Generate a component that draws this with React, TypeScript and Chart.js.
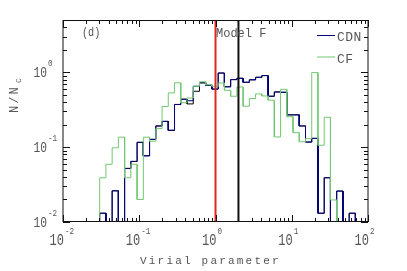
import { useEffect, useRef } from "react";
import { Chart, registerables } from "chart.js";

Chart.register(...registerables);

// ---- axis ranges ----
const X_MIN = 0.01;
const X_MAX = 100;
const Y_MIN = 0.01;
const Y_MAX = 5;
const X_TICK_EXPONENTS = [-2, -1, 0, 1, 2];
const Y_TICK_EXPONENTS = [-2, -1, 0];

// ---- histogram bins (uniform in log10) ----
const BIN_LOG_START = -1.519;
const BIN_LOG_WIDTH = 0.0818;

// ---- series values (N / N_C per bin) ----
const CF = [
  0.039, 0.059, 0.098, 0.136, 0.039, 0.059, 0.02, 0.136, 0.12, 0.177,
  0.349, 0.531, 0.724, 0.392, 0.454, 0.651, 0.747, 0.681, 0.651, 0.72,
  0.575, 0.479, 0.637, 0.352, 0.446, 0.514, 0.483, 0.424, 0.137, 0.593,
  0.255, 0.156, 0.118, 0.13, 0.991, 0.106, 0.251, 0.0197,
];
const CDN = [
  0.0131, 0, 0.0261, 0, 0.052, 0.0645, 0.116, 0.0766, 0.127, 0.192,
  0.221, 0.168, 0.372, 0.437, 0.417, 0.651, 0.724, 0.671, 0.597, 0.978,
  0.641, 0.799, 0.832, 0.736, 0.794, 0.858, 0.904, 0.479, 0.546, 0.541,
  0.27, 0.27, 0.192, 0.117, 0.131, 0.0131, 0.039, 0, 0.0259, 0,
  0.0131,
];
const ALL = [
  0.0131, 0, 0.0261, 0, 0.052, 0.0645, 0.116, 0.0766, 0.127, 0.192,
  0.221, 0.168, 0.372, 0.437, 0.378, 0.558, 0.724, 0.671, 0.597, 0.978,
  0.641, 0.799, 0.832, 0.736, 0.794, 0.858, 0.904, 0.479, 0.546, 0.541,
  0.27, 0.27, 0.192, 0.117, 0.131, 0.0131, 0.039, 0, 0.0259, 0,
  0.0131,
];
const VLINES = [1, 2];

const LABEL_CDN = "CDN";
const LABEL_CF = "CF";
const X_TITLE = "Virial parameter";
const PANEL_TAG = "(d)";
const MODEL_TAG = "Model F";

const COL_CDN = "#000080";
const COL_CF = "#72c872";
const COL_ALL = "#000000";
const COL_TEXT = "#555555";

function edge(k: number) {
  return Math.pow(10, BIN_LOG_START + k * BIN_LOG_WIDTH);
}

// empty bins sit on the lower axis edge (log scale cannot show 0)
function floorY(v: number) {
  return v > 0 ? v : Y_MIN;
}

function histPoints(values: number[]) {
  const pts: { x: number; y: number }[] = [{ x: edge(0), y: Y_MIN }];
  values.forEach((v, i) => {
    pts.push({ x: edge(i), y: floorY(v) });
    pts.push({ x: edge(i + 1), y: floorY(v) });
  });
  pts.push({ x: edge(values.length), y: Y_MIN });
  return pts;
}

function drawText(
  ctx: CanvasRenderingContext2D,
  text: string,
  x: number,
  y: number,
  font: string,
  align: CanvasTextAlign = "left",
  sx = 1,
  ls = 0
) {
  ctx.save();
  ctx.font = font;
  (ctx as any).letterSpacing = ls + "px";
  ctx.translate(x, y);
  ctx.scale(sx, 1);
  ctx.textAlign = align;
  ctx.textBaseline = "alphabetic";
  ctx.fillStyle = COL_TEXT;
  ctx.fillText(text, 0, 0);
  ctx.restore();
}

const MONO = "'Liberation Mono', 'DejaVu Sans Mono', monospace";

const framePlugin = {
  id: "frame",
  afterDraw(chart: any) {
    const { ctx, chartArea: a, scales } = chart;
    const xs = scales.x;
    const ys = scales.y;
    ctx.save();
    ctx.strokeStyle = "#111";
    ctx.lineWidth = 1;
    // frame
    ctx.beginPath();
    ctx.moveTo(a.left, a.top + 0.5);
    ctx.lineTo(a.right, a.top + 0.5);
    ctx.moveTo(a.left, a.bottom - 0.5);
    ctx.lineTo(a.right, a.bottom - 0.5);
    ctx.moveTo(a.left, a.top);
    ctx.lineTo(a.left, a.bottom);
    ctx.moveTo(a.right, a.top);
    ctx.lineTo(a.right, a.bottom);
    ctx.stroke();

    // x ticks
    ctx.beginPath();
    for (let d = -2; d <= 2; d++) {
      for (let m = 1; m <= 9; m++) {
        const v = m * Math.pow(10, d);
        if (v > X_MAX * 1.0001) break;
        const px = Math.round(xs.getPixelForValue(v)) + 0.5;
        const len = m === 1 ? 7 : 4;
        ctx.moveTo(px, a.bottom);
        ctx.lineTo(px, a.bottom - len);
        ctx.moveTo(px, a.top);
        ctx.lineTo(px, a.top + len);
      }
    }
    // y ticks
    for (let d = -2; d <= 0; d++) {
      for (let m = 1; m <= 9; m++) {
        const v = m * Math.pow(10, d);
        if (v > Y_MAX) break;
        const py = Math.round(ys.getPixelForValue(v)) + 0.5;
        const len = m === 1 ? 7 : 4;
        ctx.moveTo(a.left, py);
        ctx.lineTo(a.left + len, py);
        ctx.moveTo(a.right, py);
        ctx.lineTo(a.right - len, py);
      }
    }
    ctx.stroke();

    // x tick labels
    X_TICK_EXPONENTS.forEach((e) => {
      const px = xs.getPixelForValue(Math.pow(10, e));
      drawText(ctx, "10", px + 1, 245, `16px ${MONO}`, "right", 0.75);
      drawText(ctx, String(e), px + 2, 234, `9px ${MONO}`, "left", 0.85);
    });
    // y tick labels
    Y_TICK_EXPONENTS.forEach((e) => {
      const py = ys.getPixelForValue(Math.pow(10, e));
      drawText(ctx, "10", 47, py + 5, `15px ${MONO}`, "right", 0.75);
      drawText(ctx, String(e), 48, py - 6, `9px ${MONO}`, "left", 0.85);
    });

    // x title
    drawText(ctx, X_TITLE, 140, 264, `11px ${MONO}`, "left", 1, 2.2);

    // y title (rotated)
    ctx.save();
    ctx.translate(18, 113);
    ctx.rotate(-Math.PI / 2);
    drawText(ctx, "N/N", 0, 0, `12px ${MONO}`, "left", 1, 2);
    drawText(ctx, "C", 30, 3, `8px ${MONO}`, "left", 1, 0);
    ctx.restore();

    // annotations
    drawText(ctx, PANEL_TAG, 82, 36, `12px ${MONO}`, "left", 0.85);
    drawText(ctx, MODEL_TAG, 216, 36.5, `12px ${MONO}`, "left", 1);

    // legend
    ctx.lineWidth = 1;
    ctx.strokeStyle = COL_CDN;
    ctx.beginPath();
    ctx.moveTo(317, 35.5);
    ctx.lineTo(335, 35.5);
    ctx.stroke();
    ctx.strokeStyle = COL_CF;
    ctx.beginPath();
    ctx.moveTo(317, 57);
    ctx.lineTo(335, 57);
    ctx.stroke();
    drawText(ctx, LABEL_CDN, 337, 41, `13px ${MONO}`, "left", 1, 0.5);
    drawText(ctx, LABEL_CF, 337, 63, `13px ${MONO}`, "left", 1, 0.5);

    ctx.restore();
  },
};

export default function App() {
  const ref = useRef<HTMLCanvasElement | null>(null);

  useEffect(() => {
    document.body.style.margin = "0";
    if (!ref.current) return;
    const vlineColors = ["#e0261f", "#111111"];
    const chart = new Chart(ref.current, {
      type: "line",
      data: {
        datasets: [
          ...VLINES.map((v, i) => ({
            label: "v" + i,
            data: [
              { x: v, y: Y_MIN },
              { x: v, y: Y_MAX },
            ],
            borderColor: vlineColors[i],
            borderWidth: 2,
            pointRadius: 0,
            fill: false,
            order: 0,
          })),
          {
            label: LABEL_CF,
            data: histPoints(CF),
            borderColor: COL_CF,
            borderWidth: 1,
            pointRadius: 0,
            fill: false,
            order: 1,
          },
          {
            label: LABEL_CDN,
            data: histPoints(CDN),
            borderColor: COL_CDN,
            borderWidth: 1,
            pointRadius: 0,
            fill: false,
            order: 2,
          },
          {
            label: "all",
            data: histPoints(ALL),
            borderColor: COL_ALL,
            borderWidth: 1,
            pointRadius: 0,
            fill: false,
            order: 3,
          },
        ],
      },
      options: {
        responsive: false,
        animation: false,
        devicePixelRatio: 1,
        events: [],
        layout: { padding: { left: 63, right: 39, top: 20, bottom: 49 } },
        plugins: { legend: { display: false }, tooltip: { enabled: false } },
        elements: { line: { tension: 0 }, point: { radius: 0 } },
        scales: {
          x: { type: "logarithmic", min: X_MIN, max: X_MAX, display: false },
          y: { type: "logarithmic", min: Y_MIN, max: Y_MAX, display: false },
        },
      },
      plugins: [framePlugin],
    } as any);
    return () => chart.destroy();
  }, []);

  return (
    <div style={{ width: 407, height: 271 }}>
      <canvas ref={ref} width={407} height={271} style={{ display: "block" }} />
    </div>
  );
}
